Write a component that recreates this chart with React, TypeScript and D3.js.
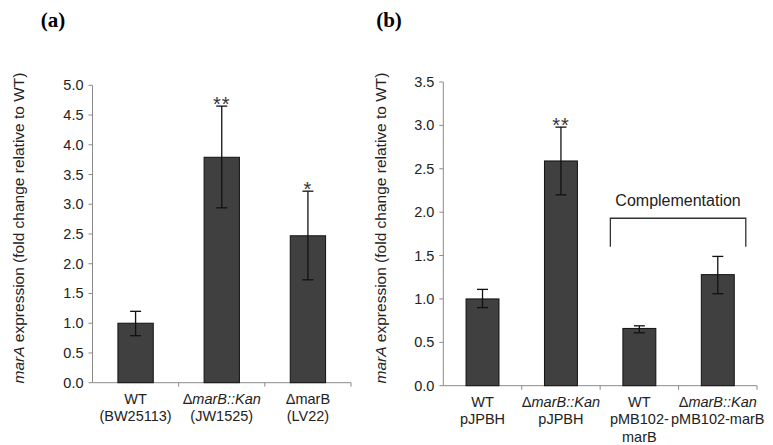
import * as d3 from "d3";

// panel (a)
const labelsA = [
  ["WT", "(BW25113)"],
  ["Δ_marB::Kan_", "(JW1525)"],
  ["ΔmarB", "(LV22)"],
];
const valuesA = [1.0, 3.79, 2.47];
const errLowA = [0.79, 2.94, 1.73];
const errHighA = [1.2, 4.65, 3.22];
const starsA = ["", "**", "*"];
const ticksA = [0, 0.5, 1, 1.5, 2, 2.5, 3, 3.5, 4, 4.5, 5];

// panel (b)
const labelsB = [
  ["WT", "pJPBH"],
  ["Δ_marB::Kan_", "pJPBH"],
  ["WT", "pMB102-", "marB"],
  ["Δ_marB::Kan_", "pMB102-marB"],
];
const valuesB = [1.0, 2.59, 0.66, 1.28];
const errLowB = [0.9, 2.2, 0.61, 1.06];
const errHighB = [1.11, 2.98, 0.69, 1.49];
const starsB = ["", "**", "", ""];
const ticksB = [0, 0.5, 1, 1.5, 2, 2.5, 3, 3.5];

const FONT = "'Liberation Sans', Arial, sans-serif";
const fmt = d3.format(".1f");

// "_" toggles italic
function Label({ text, x, y }) {
  const parts = text.split("_");
  return (
    <text x={x} y={y} textAnchor="middle" dominantBaseline="central" fontSize={14.5} fontFamily={FONT} fill="#222">
      {parts.map((p, i) => (
        <tspan key={i} fontStyle={i % 2 === 1 ? "italic" : "normal"}>
          {p}
        </tspan>
      ))}
    </text>
  );
}

function Panel({ left, right, top, bottom, max, ticks, labels, values, errLow, errHigh, stars, barFrac }) {
  const x = d3
    .scaleBand()
    .domain(labels.map((_, i) => String(i)))
    .range([left, right])
    .padding(0);
  const y = d3.scaleLinear().domain([0, max]).range([bottom, top]);
  const bw = x.bandwidth() * barFrac;
  const cap = 5.5;

  return (
    <g>
      {/* axes */}
      <line x1={left} y1={y(max)} x2={left} y2={bottom} stroke="#8a8a8a" />
      <line x1={left} y1={bottom} x2={right} y2={bottom} stroke="#8a8a8a" />
      {ticks.map((t) => (
        <g key={t}>
          <line x1={left - 4} x2={left} y1={y(t)} y2={y(t)} stroke="#8a8a8a" />
          <text x={left - 9} y={y(t)} textAnchor="end" dominantBaseline="central" fontSize={14.5} fontFamily={FONT} fill="#222">
            {fmt(t)}
          </text>
        </g>
      ))}
      {labels.map((_, i) => (
        <line
          key={i}
          x1={x(String(i)) + x.bandwidth()}
          x2={x(String(i)) + x.bandwidth()}
          y1={bottom}
          y2={bottom + 4}
          stroke="#8a8a8a"
        />
      ))}
      {/* bars */}
      {values.map((v, i) => {
        const cx = x(String(i)) + x.bandwidth() / 2;
        return (
          <g key={i}>
            <rect x={cx - bw / 2} y={y(v)} width={bw} height={bottom - y(v)} fill="#404040" stroke="#111" strokeWidth={1} />
            <line x1={cx} x2={cx} y1={y(errLow[i])} y2={y(errHigh[i])} stroke="#111" strokeWidth={1.3} />
            <line x1={cx - cap} x2={cx + cap} y1={y(errLow[i])} y2={y(errLow[i])} stroke="#111" strokeWidth={1.3} />
            <line x1={cx - cap} x2={cx + cap} y1={y(errHigh[i])} y2={y(errHigh[i])} stroke="#111" strokeWidth={1.3} />
            {stars[i] && (
              <text x={cx} y={y(errHigh[i]) + 5} textAnchor="middle" fontSize={20} letterSpacing={1} fontFamily={FONT} fill="#333">
                {stars[i]}
              </text>
            )}
            {labels[i].map((line, j) => (
              <Label key={j} text={line} x={cx} y={bottom + 16 + j * 17.5} />
            ))}
          </g>
        );
      })}
    </g>
  );
}

export default function App() {
  const yTitle = (cx) => (
    <text
      transform={`translate(${cx},228) rotate(-90)`}
      textAnchor="middle"
      dominantBaseline="central"
      fontSize={15.5}
      fontFamily={FONT}
      fill="#222"
    >
      <tspan fontStyle="italic">marA</tspan> expression (fold change relative to WT)
    </text>
  );

  // bracket for complementation, over bars 3 and 4 of panel b
  const bx = d3.scaleBand().domain(["0", "1", "2", "3"]).range([443.3, 757]);
  const by = d3.scaleLinear().domain([0, 3.5]).range([385.7, 82]);
  const bL = bx("2") + bx.bandwidth() / 2 - 29;
  const bR = bx("3") + bx.bandwidth() / 2 + 28;

  return (
    <svg width={773} height={445} style={{ position: "absolute", left: 0, top: 0, background: "#fff" }}>
      <text x={53} y={20} textAnchor="middle" dominantBaseline="central" fontSize={21} fontWeight="bold" fontFamily="'Liberation Serif', 'Times New Roman', serif">
        (a)
      </text>
      <text x={389} y={20} textAnchor="middle" dominantBaseline="central" fontSize={21} fontWeight="bold" fontFamily="'Liberation Serif', 'Times New Roman', serif">
        (b)
      </text>
      {yTitle(18)}
      {yTitle(380)}
      <Panel
        left={92.5}
        right={351}
        top={85.3}
        bottom={382.7}
        max={5}
        ticks={ticksA}
        labels={labelsA}
        values={valuesA}
        errLow={errLowA}
        errHigh={errHighA}
        stars={starsA}
        barFrac={0.41}
      />
      <Panel
        left={443.3}
        right={757}
        top={82}
        bottom={385.7}
        max={3.5}
        ticks={ticksB}
        labels={labelsB}
        values={valuesB}
        errLow={errLowB}
        errHigh={errHighB}
        stars={starsB}
        barFrac={0.42}
      />
      <path
        d={`M${bL},${by(1.6)} V${by(1.93)} H${bR} V${by(1.6)}`}
        fill="none"
        stroke="#333"
        strokeWidth={1.3}
      />
      <text x={(bL + bR) / 2} y={200} textAnchor="middle" dominantBaseline="central" fontSize={16} fontFamily={FONT} fill="#222">
        Complementation
      </text>
    </svg>
  );
}
